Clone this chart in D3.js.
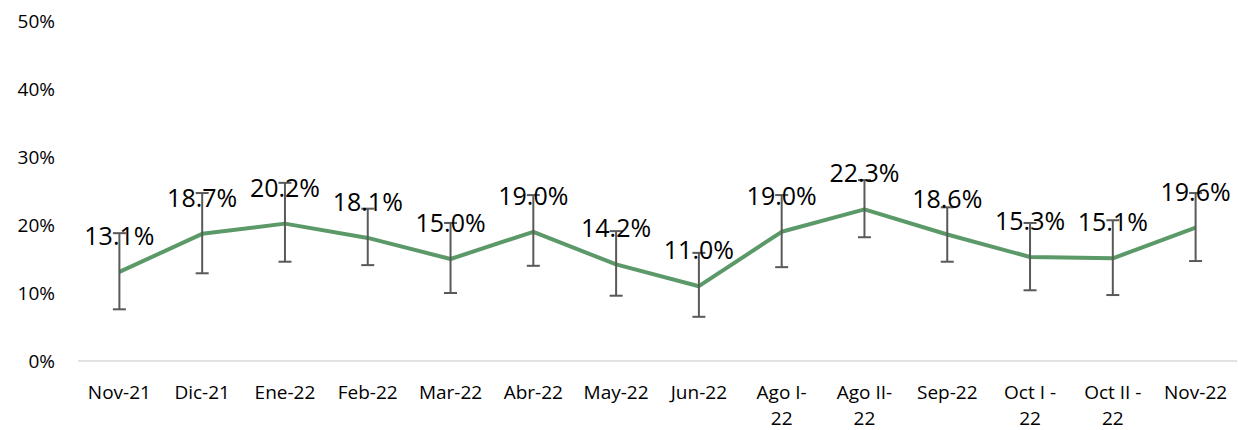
<!DOCTYPE html>
<html>
<head>
<meta charset="utf-8">
<script src="https://cdn.jsdelivr.net/npm/d3@7"></script>
<style>
  body { margin: 0; background: #fff; }
  text { font-family: "Open Sans", sans-serif; fill: #000; }
</style>
</head>
<body>
<svg></svg>
<script>
const categories = ['Nov-21', 'Dic-21', 'Ene-22', 'Feb-22', 'Mar-22', 'Abr-22', 'May-22', 'Jun-22',
  'Ago I-22', 'Ago II-22', 'Sep-22', 'Oct I -22', 'Oct II -22', 'Nov-22'];
const values = [13.1, 18.7, 20.2, 18.1, 15.0, 19.0, 14.2, 11.0, 19.0, 22.3, 18.6, 15.3, 15.1, 19.6];
const errUpper = [18.8, 24.7, 26.2, 22.4, 20.3, 24.4, 19.1, 15.9, 24.4, 26.6, 22.6, 20.3, 20.7, 24.7];
const errLower = [7.6, 12.9, 14.6, 14.1, 10.0, 14.0, 9.6, 6.5, 13.8, 18.2, 14.6, 10.4, 9.7, 14.7];
const yTicks = [0, 10, 20, 30, 40, 50];
// label lines for the wrapped categories
const catLines = {
  'Ago I-22': ['Ago I-', '22'],
  'Ago II-22': ['Ago II-', '22'],
  'Oct I -22': ['Oct I -', '22'],
  'Oct II -22': ['Oct II -', '22']
};

window.onload = () => {
  const width = 1238, height = 430;
  const left = 78, right = 1237, top = 21, bottom = 361;

  const svg = d3.select('svg').attr('width', width).attr('height', height);

  const x = d3.scaleBand().domain(categories).range([left, right]);
  const y = d3.scaleLinear().domain([0, 50]).range([bottom, top]);
  const cx = d => x(d) + x.bandwidth() / 2;

  // baseline
  svg.append('line')
    .attr('x1', left).attr('x2', right)
    .attr('y1', y(0)).attr('y2', y(0))
    .attr('stroke', '#d9d9d9').attr('stroke-width', 1.5);

  // y tick labels
  svg.selectAll('.ytick')
    .data(yTicks)
    .enter()
    .append('text')
    .attr('class', 'ytick')
    .attr('x', 55)
    .attr('y', d => y(d) + 7)
    .attr('text-anchor', 'end')
    .attr('font-size', 19)
    .text(d => d + '%');

  // x labels
  const xl = svg.selectAll('.xlab')
    .data(categories)
    .enter()
    .append('text')
    .attr('class', 'xlab')
    .attr('text-anchor', 'middle')
    .attr('font-size', 19)
    .attr('y', 399);
  xl.selectAll('tspan')
    .data(d => (catLines[d] || [d]).map(t => ({cat: d, t})))
    .enter()
    .append('tspan')
    .attr('x', d => cx(d.cat))
    .attr('dy', (d, i) => i === 0 ? 0 : 26)
    .text(d => d.t);

  // line
  const line = d3.line()
    .x((d, i) => cx(categories[i]))
    .y(d => y(d));
  svg.append('path')
    .datum(values)
    .attr('fill', 'none')
    .attr('stroke', '#5b9a68')
    .attr('stroke-width', 4)
    .attr('stroke-linejoin', 'round')
    .attr('d', line);

  // error bars
  const eb = svg.selectAll('.err')
    .data(categories)
    .enter()
    .append('g')
    .attr('class', 'err')
    .attr('stroke', '#595959')
    .attr('stroke-width', 2);
  eb.append('line')
    .attr('x1', d => cx(d)).attr('x2', d => cx(d))
    .attr('y1', (d, i) => y(errUpper[i])).attr('y2', (d, i) => y(errLower[i]));
  eb.append('line')
    .attr('x1', d => cx(d) - 6.5).attr('x2', d => cx(d) + 6.5)
    .attr('y1', (d, i) => y(errUpper[i])).attr('y2', (d, i) => y(errUpper[i]));
  eb.append('line')
    .attr('x1', d => cx(d) - 6.5).attr('x2', d => cx(d) + 6.5)
    .attr('y1', (d, i) => y(errLower[i])).attr('y2', (d, i) => y(errLower[i]));

  // data labels
  svg.selectAll('.vlab')
    .data(values)
    .enter()
    .append('text')
    .attr('class', 'vlab')
    .attr('text-anchor', 'middle')
    .attr('font-size', 25)
    .attr('x', (d, i) => cx(categories[i]))
    .attr('y', d => y(d) - 27)
    .text(d => d.toFixed(1) + '%');
};
</script>
</body>
</html>
